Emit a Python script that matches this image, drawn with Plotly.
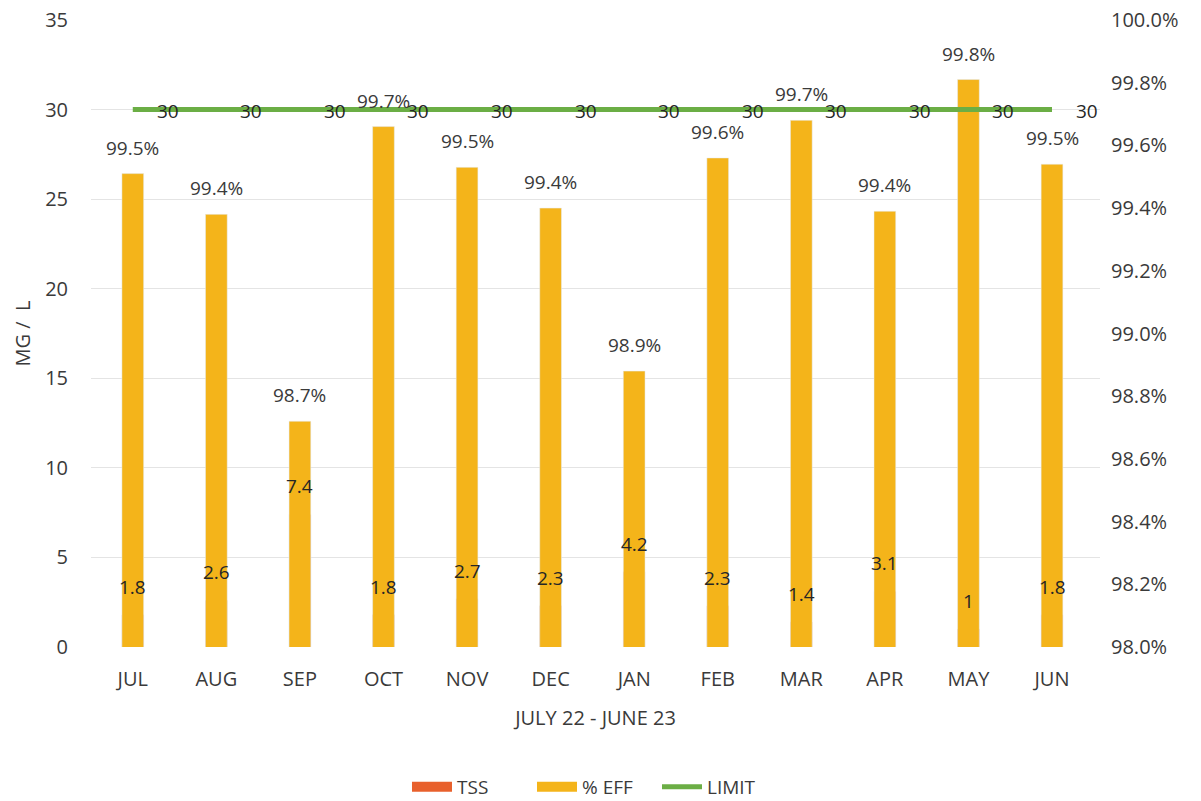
import plotly.graph_objects as go

months = ["JUL", "AUG", "SEP", "OCT", "NOV", "DEC", "JAN", "FEB", "MAR", "APR", "MAY", "JUN"]
tss = [1.8, 2.6, 7.4, 1.8, 2.7, 2.3, 4.2, 2.3, 1.4, 3.1, 1.0, 1.8]
eff = [0.9951, 0.9938, 0.9872, 0.9966, 0.9953, 0.9940, 0.9888, 0.9956, 0.9968, 0.9939, 0.9981, 0.9954]
limit = [30] * 12

FONT = "Open Sans"
TXT = "#3A3A3A"
FS = 20
C_TSS = "#E8602C"
C_EFF = "#F4B41A"
C_LIM = "#6BAE45"

fig = go.Figure()
fig.add_trace(go.Bar(x=months, y=tss, name="TSS", marker_color=C_TSS,
                     width=0.26, yaxis="y", offsetgroup="a", showlegend=False))
fig.add_trace(go.Bar(x=months, y=eff, name="% EFF", marker_color=C_EFF,
                     width=0.26, yaxis="y2", offsetgroup="a", showlegend=False))
fig.add_trace(go.Scatter(x=months, y=limit, name="LIMIT", mode="lines",
                         line=dict(color=C_LIM, width=5), yaxis="y3", showlegend=False))

# legend swatches (wide rectangles like the original)
for nm, col, w in [("TSS", C_TSS, 12), ("% EFF", C_EFF, 12), ("LIMIT", C_LIM, 5)]:
    fig.add_trace(go.Scatter(x=[None], y=[None], name=nm, mode="lines",
                             line=dict(color=col, width=w), yaxis="y3"))

annotations = []
for m, v in zip(months, eff):
    annotations.append(dict(x=m, y=v, xref="x", yref="y2", text=f"{v*100:.1f}%",
                            showarrow=False, yanchor="bottom", yshift=11,
                            font=dict(family=FONT, size=FS - 1, color=TXT)))
for m, v in zip(months, tss):
    annotations.append(dict(x=m, y=v, xref="x", yref="y", text=f"{v:g}",
                            showarrow=False, yanchor="bottom", yshift=13,
                            font=dict(family=FONT, size=FS - 1, color="#262626")))
for m, v in zip(months, limit):
    annotations.append(dict(x=m, y=v, xref="x", yref="y", text=f"{v:g}",
                            showarrow=False, xanchor="left", xshift=22, yshift=-1,
                            font=dict(family=FONT, size=FS - 1, color="#262626")))

fig.update_layout(
    width=1201, height=801,
    paper_bgcolor="white", plot_bgcolor="white",
    margin=dict(l=91, r=101, t=20, b=154),
    barmode="overlay",
    font=dict(family=FONT, size=FS, color=TXT),
    xaxis=dict(showgrid=False, showline=False, ticks="", automargin=False,
               ticklabelstandoff=18,
               title=dict(text="JULY 22 - JUNE 23", standoff=19,
                          font=dict(family=FONT, size=FS, color=TXT))),
    yaxis=dict(range=[0, 35], dtick=5, showgrid=True, gridcolor="#E4E4E4",
               zeroline=False, showline=False, ticks="", ticklabelstandoff=22,
               automargin=False,
               title=dict(text="MG /  L", standoff=9,
                          font=dict(family=FONT, size=FS, color=TXT))),
    yaxis2=dict(range=[0.98, 1.0], dtick=0.002, tickformat=".1%", overlaying="y",
                side="right", showgrid=False, zeroline=False, showline=False,
                ticks="", ticklabelstandoff=10, automargin=False),
    yaxis3=dict(range=[0, 35], overlaying="y", visible=False, matches="y"),
    legend=dict(orientation="h", x=0.495, xanchor="center", xref="container",
                y=1 - 787 / 801, yanchor="middle", yref="container",
                font=dict(family=FONT, size=FS - 1, color=TXT), itemwidth=40,
                entrywidth=70, entrywidthmode="pixels"),
    annotations=annotations,
)

fig.write_html("out.html", post_script="document.body.style.margin='0';",
               config={"displayModeBar": False})
